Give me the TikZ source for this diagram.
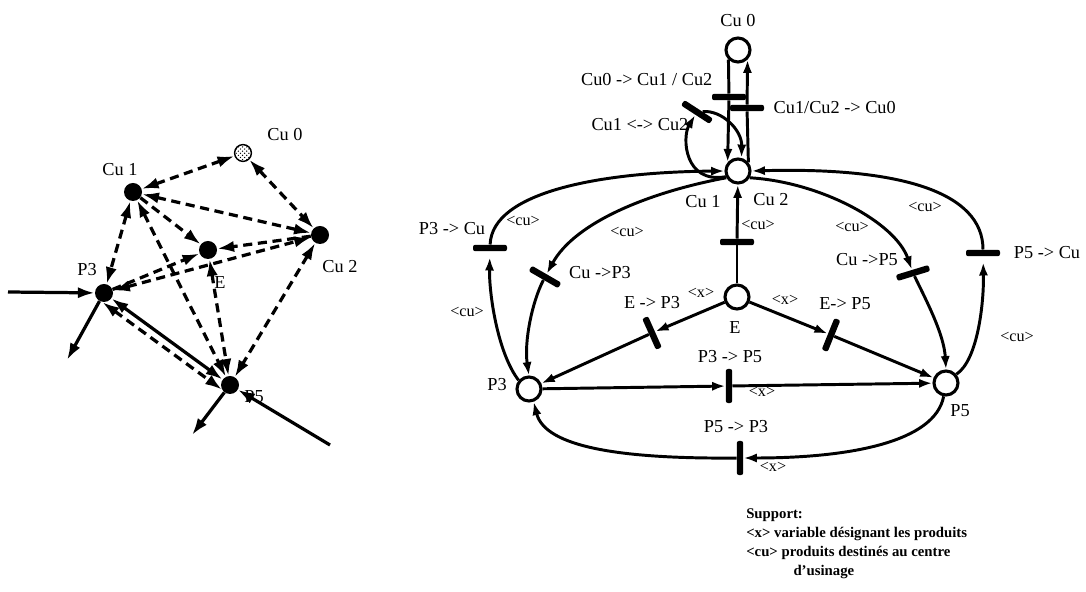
\documentclass[tikz,border=0pt]{standalone}
\usepackage{fontspec}
\setmainfont{Liberation Serif}
\usetikzlibrary{arrows.meta,patterns}

\begin{document}
\begin{tikzpicture}[
            x=0.025cm, y=0.025cm,
            % Stili
            lab/.style={font=\fontsize{13}{15}\selectfont, inner sep=1pt},
            tok/.style={font=\fontsize{11.5}{13}\selectfont, inner sep=1pt},
            place/.style={circle, draw=black, line width=2.2pt, fill=white, minimum size=0.6cm, inner sep=0pt},
            trans/.style={rectangle, fill=black, rounded corners=1.5pt, minimum width=0.85cm, minimum height=0.16cm, inner sep=0pt},
            dot/.style={circle, fill=black, minimum size=0.45cm, inner sep=0pt},
            hatched/.style={circle, draw=black, line width=1pt, pattern=crosshatch dots, minimum size=0.42cm, inner sep=0pt},
            line/.style={line width=2.1pt},
            arc/.style={line width=2.1pt, -{Latex[length=9.5pt,width=6.5pt]}},
            sto/.style={line width=2.3pt, -{Latex[length=12pt,width=8pt]}},
            sboth/.style={line width=2.3pt, {Latex[length=12pt,width=8pt]}-{Latex[length=12pt,width=8pt]}},
            dto/.style={sto, dash pattern=on 6.5pt off 4pt},
            dboth/.style={sboth, dash pattern=on 6.5pt off 4pt}
        ]
        \useasboundingbox (0,0) rectangle (1086,592);

        % Graphe de gauche
        \node (lcu0) [hatched] at (243,439) {};
        \node (lcu1) [dot] at (133,400) {};
        \node (le) [dot] at (208,342) {};
        \node (lcu2) [dot] at (320,357) {};
        \node (lp3) [dot] at (104,299) {};
        \node (lp5) [dot] at (230,207) {};
        \coordinate (lin3) at (8,300);
        \coordinate (lout3) at (67,232);
        \coordinate (lout5) at (192,157);
        \coordinate (lin5) at (330,147);

        \node [lab] at (285,457) {Cu 0};
        \node [lab] at (120,422) {Cu 1};
        \node [lab] at (220,309) {E};
        \node [lab] at (340,325) {Cu 2};
        \node [lab] at (87,322) {P3};
        \node [lab] at (254,195) {P5};

        \draw [dboth] (lcu1) -- (lcu0);
        \draw [dboth] (lcu0) -- (lcu2);
        \draw [dboth] (lcu1) -- (lcu2);
        \draw [dto] (lcu1) -- (le);
        \draw [dto] (lcu2) -- (le);
        \draw [dto] (lp3) -- (le);
        \draw [dboth] (lp3) -- (lcu2);
        \draw [dboth] (lcu1) -- (lp3);
        \draw [dboth] (lcu1) -- (lp5);
        \draw [dboth] (le) -- (lp5);
        \draw [dboth] (lcu2) -- (lp5);
        \draw [dboth] (lp3.-100) -- (lp5.-150);
        \draw [sboth] (lp3) -- (lp5);
        \draw [sto] (lin3) -- (lp3);
        \draw [sto] (lp3) -- (lout3);
        \draw [sto] (lp5) -- (lout5);
        \draw [sto] (lin5) -- (lp5);

        % Places
        \node (cu0) [place] at (738,542) {};
        \node (cu12) [place] at (738,421) {};
        \node (e) [place] at (737,295) {};
        \node (p3) [place] at (529,203) {};
        \node (p5) [place] at (946,209) {};

        % Transitions
        \node (tA) [trans] at (729,495) {};
        \node (tB) [trans] at (747,484) {};
        \node (tL) [trans, rotate=-33] at (697,480) {};
        \node (tEC) [trans] at (737,350) {};
        \node (tP3C) [trans] at (490,344) {};
        \node (tCP3) [trans, rotate=-30] at (545,315) {};
        \node (tP5C) [trans] at (983,339) {};
        \node (tCP5) [trans, rotate=17] at (913,319) {};
        \node (tEP3) [trans, rotate=-66] at (652,259) {};
        \node (tEP5) [trans, rotate=68] at (831,257) {};
        \node (tP35) [trans, rotate=90] at (729,206) {};
        \node (tP53) [trans, rotate=90] at (740,134) {};

        % Arcs
        \draw [line] (cu0.225) -- (tA);
        \draw [arc] (tA) -- (cu12.140);
        \draw [line] (cu12.40) -- (tB);
        \draw [arc] (tB) -- (cu0.-45);

        \draw [arc] (cu12.205) .. controls (684,408) and (682,455) .. (tL);
        \draw [arc] (tL) .. controls (722,482) and (742,462) .. (cu12.75);

        \draw [line] (e) -- (tEC);
        \draw [arc] (tEC) -- (cu12);

        \draw [arc, shorten >=4pt] (p3.140) .. controls (497,240) and (489,300) .. (tP3C);
        \draw [arc] (tP3C) .. controls (492,400) and (600,420) .. (cu12.west);

        \draw [arc] (cu12.210) .. controls (650,400) and (575,370) .. (tCP3);
        \draw [arc] (tCP3) .. controls (532,290) and (524,250) .. (p3.north);

        \draw [arc, shorten >=4pt] (p5.40) .. controls (978,232) and (984,290) .. (tP5C);
        \draw [arc] (tP5C) .. controls (983,400) and (900,425) .. (cu12.east);

        \draw [arc] (cu12.-30) .. controls (820,410) and (895,370) .. (tCP5);
        \draw [arc] (tCP5) .. controls (926,292) and (944,258) .. (p5.north);

        \draw [arc] (e) -- (tEP3);
        \draw [arc] (tEP3) -- (p3);
        \draw [arc] (e) -- (tEP5);
        \draw [arc] (tEP5) -- (p5);

        \draw [arc] (p3) -- (tP35);
        \draw [arc] (tP35) -- (p5);

        \draw [arc] (p5.-100) .. controls (935,150) and (850,134) .. (tP53);
        \draw [arc] (tP53) .. controls (620,133) and (545,145) .. (p3.-70);

        % Etiquettes
        \node [lab] at (738,571) {Cu 0};
        \node [lab, anchor=east] at (714,512) {Cu0 -> Cu1 / Cu2};
        \node [lab, anchor=west] at (772,484) {Cu1/Cu2 -> Cu0};
        \node [lab, anchor=east] at (690,467) {Cu1 <-> Cu2};
        \node [lab] at (703,390) {Cu 1};
        \node [lab] at (771,392) {Cu 2};
        \node [tok] at (758,367) {<cu>};
        \node [lab] at (735,264) {E};
        \node [tok] at (701,299) {<x>};
        \node [lab] at (652,289) {E -> P3};
        \node [tok] at (785,292) {<x>};
        \node [lab] at (845,288) {E-> P5};
        \node [lab] at (730,235) {P3 -> P5};
        \node [tok] at (762,200) {<x>};
        \node [lab] at (736,165) {P5 -> P3};
        \node [tok] at (773,125) {<x>};
        \node [lab] at (497,207) {P3};
        \node [lab] at (960,181) {P5};
        \node [lab] at (452,363) {P3 -> Cu};
        \node [tok] at (523,371) {<cu>};
        \node [tok] at (467,280) {<cu>};
        \node [lab] at (600,319) {Cu ->P3};
        \node [tok] at (627,360) {<cu>};
        \node [tok] at (925,385) {<cu>};
        \node [tok] at (852,365) {<cu>};
        \node [lab] at (867,332) {Cu ->P5};
        \node [lab] at (1047,339) {P5 -> Cu};
        \node [tok] at (1017,255) {<cu>};

        % Legende
        \node (legend) [anchor=north west, align=left, inner sep=0pt, font=\bfseries\fontsize{10.5}{13.5}\selectfont] at (746,84) {Support:\\<x> variable désignant les produits\\<cu> produits destinés au centre\\\hspace*{3.2em}d'usinage};

    \end{tikzpicture}
\end{document}
